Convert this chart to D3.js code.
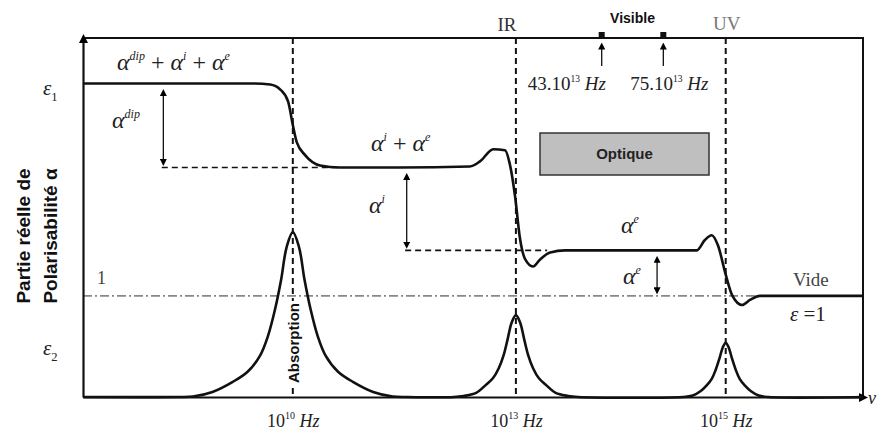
<!DOCTYPE html>
<html><head><meta charset="utf-8">
<script src="https://cdn.jsdelivr.net/npm/d3@7"></script>
<style>html,body{margin:0;padding:0;background:#fff;} svg{display:block;}</style>
</head><body>
<svg id="c" width="880" height="432"></svg>
<script>
// ---- data (schematic frequency position 0..100, value in units of ε=1) ----
const eps1X = [0, 22.0, 24.0, 25.3, 26.3, 26.9, 27.4, 28.5, 30.4, 32.9, 40.6, 49.6, 50.9, 52.6, 54.1, 54.7, 55.4, 56.0, 56.7, 57.7, 58.6, 59.9, 61.8, 78.7, 79.7, 80.6, 81.4, 82.4, 83.2, 84.5, 85.5, 86.8, 100];
const eps1Y = [3.10, 3.10, 3.09, 3.04, 2.92, 2.69, 2.52, 2.39, 2.29, 2.27, 2.27, 2.28, 2.33, 2.45, 2.44, 2.31, 1.98, 1.58, 1.36, 1.29, 1.36, 1.43, 1.45, 1.45, 1.55, 1.60, 1.50, 1.21, 1.01, 0.91, 0.96, 1.00, 1.00];
const eps2X = [0, 12.2, 14.1, 16.6, 19.2, 21.1, 22.7, 23.7, 24.6, 25.4, 26.1, 26.9, 27.7, 28.4, 29.2, 30.1, 31.1, 32.7, 34.6, 37.2, 39.7, 41.6,
  47.55, 48.8, 50.4, 51.65, 52.55, 53.3, 53.95, 54.45, 54.95, 55.5, 56.05, 56.55, 57.05, 57.7, 58.45, 59.35, 60.6, 62.2, 63.45,
  76.9, 78.17, 79.2, 79.96, 80.61, 81.12, 81.63, 82.02, 82.4, 82.78, 83.17, 83.68, 84.19, 84.84, 85.6, 86.63, 87.9, 100];
const eps2Y = [0, 0, 0.005, 0.05, 0.15, 0.25, 0.41, 0.60, 0.86, 1.16, 1.48, 1.63, 1.48, 1.16, 0.86, 0.60, 0.41, 0.25, 0.15, 0.05, 0.005, 0,
  0, 0.01, 0.04, 0.12, 0.185, 0.285, 0.42, 0.575, 0.735, 0.81, 0.735, 0.575, 0.42, 0.285, 0.185, 0.12, 0.04, 0.01, 0,
  0, 0.015, 0.06, 0.115, 0.18, 0.27, 0.39, 0.49, 0.535, 0.49, 0.39, 0.27, 0.18, 0.115, 0.06, 0.015, 0, 0];
const resonancePos = [26.9, 55.5, 82.4];
const resonanceExp = ["10", "13", "15"];
const visiblePos = [66.5, 74.4];
const visibleMant = ["43.10", "75.10"];
const visibleExp = ["13", "13"];
const levelTop = 3.10, levelIE = 2.27, levelE = 1.45, levelVac = 1;

// ---- layout ----
const svg = d3.select("#c");
const x = d3.scaleLinear().domain([0, 100]).range([83, 863]);
const y = d3.scaleLinear().domain([0, 3.55]).range([397, 38]);
const SERIF = "'Liberation Serif', 'Times New Roman', serif";
const SANS = "'Liberation Sans', Arial, sans-serif";

const defs = svg.append("defs");
function marker(id, w, h) {
  defs.append("marker").attr("id", id).attr("viewBox", "0 0 10 10").attr("refX", 5).attr("refY", 5)
    .attr("markerWidth", w).attr("markerHeight", h).attr("markerUnits", "userSpaceOnUse").attr("orient", "auto-start-reverse")
    .append("path").attr("d", "M0,0L10,5L0,10z").attr("fill", "#000");
}
marker("ah", 11, 9);
marker("sm", 7, 7);

function rich(x0, y0, parts, size, color, anchor) {
  const t = svg.append("text").attr("x", x0).attr("y", y0).attr("font-family", SERIF)
    .attr("font-size", size).attr("fill", color || "#222").attr("text-anchor", anchor || "start");
  let shift = 0;
  parts.forEach(p => {
    const s = t.append("tspan").text(p.t);
    let target = 0;
    if (p.sup) { target = -size * 0.42; s.attr("font-size", size * 0.5); }
    if (p.sub) { target = size * 0.28; s.attr("font-size", size * 0.6); }
    if (target !== shift) s.attr("dy", target - shift);
    shift = target;
    if (p.i) s.attr("font-style", "italic");
  });
  return t;
}

// vertical dashed resonance lines
svg.append("g").selectAll("line").data(resonancePos).join("line")
  .attr("x1", d => x(d)).attr("x2", d => x(d)).attr("y1", y(3.55)).attr("y2", y(0))
  .attr("stroke", "#111").attr("stroke-width", 2).attr("stroke-dasharray", "6,4");

// dash-dot vacuum level
svg.append("line").attr("x1", x(0)).attr("x2", x(100)).attr("y1", y(levelVac)).attr("y2", y(levelVac))
  .attr("stroke", "#888").attr("stroke-width", 1.6).attr("stroke-dasharray", "9,3,2,3");

// horizontal dashed level guides
const guides = [[10.1, 33.0, levelIE], [41.3, 59.5, levelE]];
svg.append("g").selectAll("line").data(guides).join("line")
  .attr("x1", d => x(d[0])).attr("x2", d => x(d[1])).attr("y1", d => y(d[2])).attr("y2", d => y(d[2]))
  .attr("stroke", "#111").attr("stroke-width", 1.6).attr("stroke-dasharray", "6,4");

// frame: top and right
svg.append("path").attr("d", `M${x(0)},${y(3.55)}H${x(100)}V${y(0)}`).attr("fill", "none")
  .attr("stroke", "#111").attr("stroke-width", 2);

// axes
const xAxis = svg.append("g").attr("transform", `translate(0,${y(0)})`)
  .call(d3.axisBottom(x).tickValues(resonancePos).tickSize(0).tickSizeOuter(0).tickPadding(14).tickFormat(() => ""));
xAxis.select(".domain").attr("stroke", "#111").attr("stroke-width", 2.2).attr("marker-end", "url(#ah)");
xAxis.selectAll(".tick text").each(function (d, i) {
  const t = d3.select(this).attr("font-family", SERIF).attr("font-size", 18).attr("fill", "#222").attr("dy", "0.9em");
  t.append("tspan").text("10");
  t.append("tspan").text(resonanceExp[i]).attr("font-size", 10).attr("dy", -8);
  t.append("tspan").text(" Hz").attr("font-style", "italic").attr("dy", 8);
});
const yAxis = svg.append("g").attr("transform", `translate(${x(0)},0)`)
  .call(d3.axisLeft(y).tickValues([]).tickSizeOuter(0));
yAxis.select(".domain").attr("stroke", "#111").attr("stroke-width", 2.2).attr("marker-end", "url(#ah)");

// curves
const line1 = d3.line().x(d => x(d[0])).y(d => y(d[1])).curve(d3.curveMonotoneX);
const line2 = d3.line().x(d => x(d[0])).y(d => y(d[1])).curve(d3.curveCatmullRom.alpha(0.5));
svg.append("path").datum(d3.zip(eps2X, eps2Y)).attr("d", line2).attr("fill", "none")
  .attr("stroke", "#111").attr("stroke-width", 2.6);
svg.append("path").datum(d3.zip(eps1X, eps1Y)).attr("d", line1).attr("fill", "none")
  .attr("stroke", "#111").attr("stroke-width", 2.6);

// double arrows
const arrows = [[10.3, levelTop, levelIE], [41.5, levelIE, levelE], [73.6, levelE, levelVac]];
svg.append("g").selectAll("line").data(arrows).join("line")
  .attr("x1", d => x(d[0])).attr("x2", d => x(d[0]))
  .attr("y1", d => y(d[1]) + 9).attr("y2", d => y(d[2]) - 5)
  .attr("stroke", "#111").attr("stroke-width", 1.3)
  .attr("marker-start", "url(#sm)").attr("marker-end", "url(#sm)");

// visible markers
svg.append("g").selectAll("rect").data(visiblePos).join("rect")
  .attr("x", d => x(d) - 3).attr("y", y(3.55) - 6).attr("width", 6).attr("height", 5).attr("fill", "#111");
svg.append("g").selectAll("line").data(visiblePos).join("line")
  .attr("x1", d => x(d)).attr("x2", d => x(d)).attr("y1", 66).attr("y2", 46)
  .attr("stroke", "#111").attr("stroke-width", 1.3).attr("marker-end", "url(#sm)");
visiblePos.forEach((p, i) => {
  rich(x(p) + (i === 0 ? -74 : -33), 90, [{ t: visibleMant[i] }, { t: visibleExp[i], sup: 1 }, { t: " " }, { t: "Hz", i: 1 }], 19, "#222");
});
svg.append("text").attr("x", (x(visiblePos[0]) + x(visiblePos[1])) / 2).attr("y", 23).attr("text-anchor", "middle")
  .attr("font-family", SANS).attr("font-weight", "bold").attr("font-size", 14).attr("fill", "#111").text("Visible");

// band labels
rich(x(resonancePos[1]) - 9, 31, [{ t: "IR" }], 19, "#333", "middle");
rich(x(resonancePos[2]) + 1, 30, [{ t: "UV" }], 19, "#777", "middle");

// Optique box
svg.append("rect").attr("x", 540).attr("y", 133).attr("width", 169).attr("height", 42)
  .attr("fill", "#bfbfbf").attr("stroke", "#333").attr("stroke-width", 1.5);
svg.append("text").attr("x", 624.5).attr("y", 159).attr("text-anchor", "middle")
  .attr("font-family", SANS).attr("font-weight", "bold").attr("font-size", 15).attr("fill", "#222").text("Optique");

// Absorption label
const absY = 343;
svg.append("rect").attr("x", x(resonancePos[0]) - 7).attr("y", absY - 42).attr("width", 14).attr("height", 84).attr("fill", "#fff");
svg.append("text").attr("transform", `translate(${x(resonancePos[0]) + 6},${absY}) rotate(-90)`).attr("text-anchor", "middle")
  .attr("font-family", SANS).attr("font-weight", "bold").attr("font-size", 15).attr("fill", "#111").text("Absorption");

// math labels
rich(43, 95, [{ t: "ε", i: 1 }, { t: "1", sub: 1 }], 21, "#222");
rich(43, 355, [{ t: "ε", i: 1 }, { t: "2", sub: 1 }], 21, "#222");
rich(97, 284, [{ t: "1" }], 18, "#444");
rich(117, 70, [{ t: "α", i: 1 }, { t: "dip", sup: 1, i: 1 }, { t: " + " }, { t: "α", i: 1 }, { t: "i", sup: 1, i: 1 }, { t: " + " }, { t: "α", i: 1 }, { t: "e", sup: 1, i: 1 }], 24, "#222");
rich(112, 128, [{ t: "α", i: 1 }, { t: "dip", sup: 1, i: 1 }], 24, "#222");
rich(371, 151, [{ t: "α", i: 1 }, { t: "i", sup: 1, i: 1 }, { t: " + " }, { t: "α", i: 1 }, { t: "e", sup: 1, i: 1 }], 24, "#222");
rich(369, 213, [{ t: "α", i: 1 }, { t: "i", sup: 1, i: 1 }], 24, "#222");
rich(621, 233, [{ t: "α", i: 1 }, { t: "e", sup: 1, i: 1 }], 24, "#222");
rich(623, 284, [{ t: "α", i: 1 }, { t: "e", sup: 1, i: 1 }], 24, "#222");
rich(793, 286, [{ t: "Vide" }], 19, "#444");
rich(790, 321, [{ t: "ε", i: 1 }, { t: " =1" }], 21, "#222");
rich(868, 404, [{ t: "ν", i: 1 }], 18, "#222");

// y-axis title
const yt = svg.append("text").attr("transform", "translate(0,236) rotate(-90)").attr("text-anchor", "middle")
  .attr("font-family", SANS).attr("font-weight", "bold").attr("font-size", 19).attr("fill", "#111");
yt.append("tspan").attr("x", 0).attr("y", 30).text("Partie réelle de");
yt.append("tspan").attr("x", 0).attr("y", 57).text("Polarisabilité α");
</script>
</body></html>
